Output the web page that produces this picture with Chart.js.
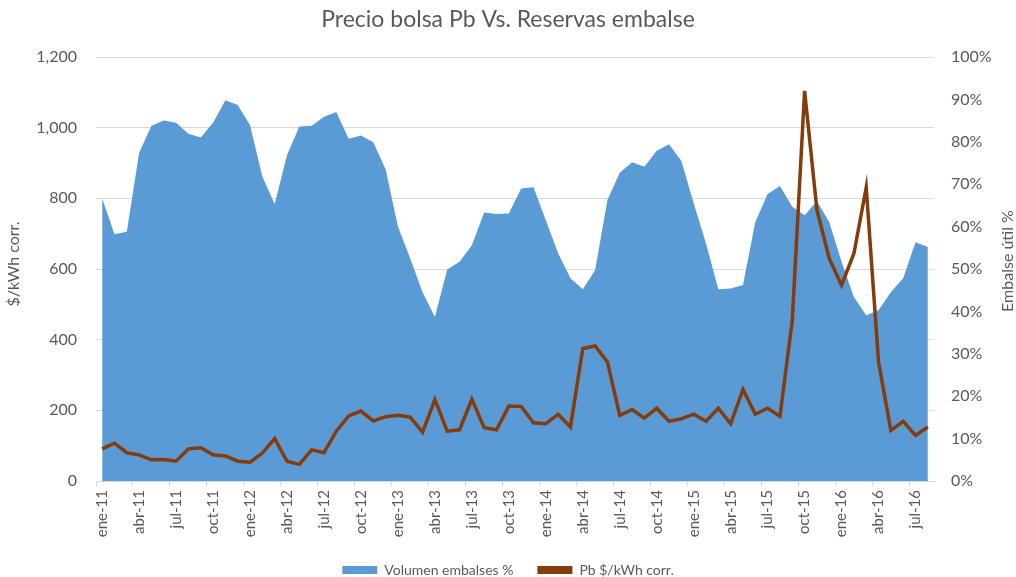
<!DOCTYPE html>
<html>
<head>
<meta charset="utf-8">
<script src="https://cdn.jsdelivr.net/npm/chart.js@4.4.0/dist/chart.umd.min.js"></script>
<style>
  body { margin: 0; background: #fff; }
</style>
</head>
<body>
<canvas id="chart" width="1016" height="577"></canvas>
<script>
const meses = [
    'ene-11','feb-11','mar-11','abr-11','may-11','jun-11','jul-11','ago-11','sep-11','oct-11','nov-11','dic-11',
    'ene-12','feb-12','mar-12','abr-12','may-12','jun-12','jul-12','ago-12','sep-12','oct-12','nov-12','dic-12',
    'ene-13','feb-13','mar-13','abr-13','may-13','jun-13','jul-13','ago-13','sep-13','oct-13','nov-13','dic-13',
    'ene-14','feb-14','mar-14','abr-14','may-14','jun-14','jul-14','ago-14','sep-14','oct-14','nov-14','dic-14',
    'ene-15','feb-15','mar-15','abr-15','may-15','jun-15','jul-15','ago-15','sep-15','oct-15','nov-15','dic-15',
    'ene-16','feb-16','mar-16','abr-16','may-16','jun-16','jul-16','ago-16'
];

// Volumen embalses (%), eje derecho
const volumenEmbalses = [
    66.7, 58.2, 58.8, 77.4, 83.8, 85.0, 84.5, 81.9, 81.0, 84.5, 89.8, 88.7,
    83.9, 71.8, 65.3, 76.9, 83.6, 83.8, 85.9, 87.0, 80.7, 81.5, 79.9, 73.5,
    60.0, 52.5, 44.5, 38.7, 49.9, 51.7, 55.6, 63.3, 63.0, 63.1, 69.0, 69.3,
    61.5, 53.7, 47.8, 45.2, 49.7, 66.3, 72.7, 75.2, 74.1, 77.9, 79.4, 75.5,
    65.5, 56.0, 45.2, 45.4, 46.2, 61.1, 67.7, 69.6, 64.7, 62.7, 66.0, 61.1,
    51.7, 43.4, 39.1, 40.3, 44.6, 47.8, 56.3, 55.2
];

// Precio bolsa Pb ($/kWh corr.), eje izquierdo
const precioBolsa = [
    91, 107, 80, 74, 60, 61, 56, 91, 94, 74, 71, 56,
    53, 79, 120, 56, 47, 88, 80, 141, 184, 198, 170, 182,
    186, 181, 138, 230, 141, 145, 231, 151, 145, 212, 211, 165,
    162, 189, 153, 375, 382, 337, 186, 202, 178, 206, 169, 176,
    189, 169, 206, 162, 259, 189, 206, 183, 455, 1104, 767, 630,
    554, 644, 831, 337, 143, 169, 129, 153
];

const textColor = '#595959';
const gridColor = '#D9D9D9';
const fontFamily = 'Lato, "Liberation Sans", sans-serif';

// titulos de ejes, ambos leidos de abajo hacia arriba como en Excel
const axisTitles = {
    id: 'axisTitles',
    afterDraw(chart) {
        const ctx = chart.ctx;
        ctx.save();
        ctx.fillStyle = textColor;
        ctx.font = '16px ' + fontFamily;
        ctx.textAlign = 'center';
        ctx.textBaseline = 'middle';
        [['$/kWh corr.', 14, 264], ['Embalse útil %', 1008, 261]].forEach(([txt, x, y]) => {
            ctx.save();
            ctx.translate(x, y);
            ctx.rotate(-Math.PI / 2);
            ctx.fillText(txt, 0, 0);
            ctx.restore();
        });
        ctx.restore();
    }
};

new Chart(document.getElementById('chart'), {
    type: 'line',
    data: {
        labels: meses,
        datasets: [{
            label: 'Volumen embalses %',
            data: volumenEmbalses,
            yAxisID: 'yR',
            fill: 'origin',
            backgroundColor: '#5B9BD5',
            borderColor: '#5B9BD5',
            borderWidth: 0,
            pointRadius: 0,
            tension: 0,
            order: 2
        }, {
            label: 'Pb $/kWh corr.',
            data: precioBolsa,
            yAxisID: 'y',
            fill: false,
            borderColor: '#843C0C',
            backgroundColor: '#843C0C',
            borderWidth: 3.5,
            pointRadius: 0,
            tension: 0,
            order: 1
        }]
    },
    plugins: [axisTitles],
    options: {
        responsive: false,
        animation: false,
        layout: { padding: { top: 0, left: 0, right: 0, bottom: -10 } },
        plugins: {
            title: {
                display: true,
                text: 'Precio bolsa Pb Vs. Reservas embalse',
                color: textColor,
                font: { family: fontFamily, size: 23, weight: 'normal' },
                padding: { top: 6, bottom: 23.4 }
            },
            legend: {
                position: 'bottom',
                labels: {
                    color: textColor,
                    font: { family: fontFamily, size: 14 },
                    boxWidth: 35,
                    boxHeight: 8,
                    padding: 24,
                    generateLabels: (chart) => {
                        const items = Chart.defaults.plugins.legend.labels.generateLabels(chart);
                        items.forEach(it => it.lineWidth = 0);
                        return items.sort((a, b) => a.datasetIndex - b.datasetIndex);
                    }
                }
            },
            tooltip: { enabled: false }
        },
        scales: {
            x: {
                offset: true,
                afterFit: (scale) => { scale.height = 58; },
                grid: {
                    offset: true,
                    drawOnChartArea: false,
                    tickLength: 6,
                    color: (ctx) => ctx.index % 3 === 0 ? gridColor : 'rgba(0,0,0,0)'
                },
                border: { display: true, color: gridColor },
                ticks: {
                    autoSkip: false,
                    maxRotation: 90,
                    minRotation: 90,
                    color: textColor,
                    font: { family: fontFamily, size: 15 },
                    padding: 3,
                    callback: (v, i) => i % 3 === 0 ? meses[i] : ''
                }
            },
            y: {
                position: 'left',
                min: 0,
                max: 1200,
                afterFit: (scale) => { scale.width = 96; },
                grid: { color: gridColor, drawTicks: false },
                border: { display: false },
                ticks: {
                    stepSize: 200,
                    color: textColor,
                    padding: 19,
                    font: { family: fontFamily, size: 16 },
                    callback: (v) => v.toLocaleString('en-US')
                }
            },
            yR: {
                position: 'right',
                min: 0,
                max: 100,
                afterFit: (scale) => { scale.width = 82; },
                grid: { drawOnChartArea: false, drawTicks: false },
                border: { display: false },
                ticks: {
                    stepSize: 10,
                    color: textColor,
                    padding: 17,
                    font: { family: fontFamily, size: 16 },
                    callback: (v) => v + '%'
                }
            }
        }
    }
});
</script>
</body>
</html>
